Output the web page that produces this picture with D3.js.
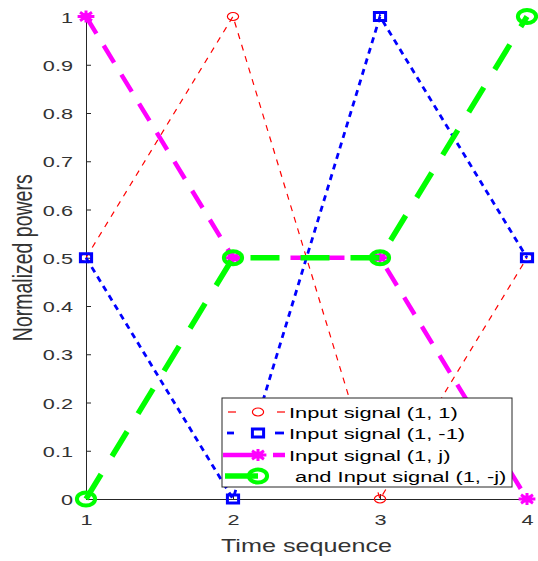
<!DOCTYPE html>
<html>
<head>
<meta charset="utf-8">
<script src="https://cdn.jsdelivr.net/npm/d3@7"></script>
<style>
  body { margin: 0; background: #fff; }
  text { font-family: "Liberation Sans", Arial, sans-serif; }
</style>
</head>
<body>
<div id="chart"></div>
<script>
// data
var times = [1, 2, 3, 4];
var sig11 = [0.5, 1, 0, 0.5];
var sig1m1 = [0.5, 0, 1, 0.5];
var sig1j = [1, 0.5, 0.5, 0];
var sig1mj = [0, 0.5, 0.5, 1];
var yTicks = [0, 0.1, 0.2, 0.3, 0.4, 0.5, 0.6, 0.7, 0.8, 0.9, 1];
var labels = ["Input signal (1, 1)", "Input signal (1, -1)", "Input signal (1, j)", " and Input signal (1, -j)"];

var width = 538, height = 561;
var margin = { top: 16.5, right: 11, bottom: 62, left: 86 };
var sx = 1.4; // the picture is stretched sideways

var x = d3.scaleLinear().domain([1, 4]).range([margin.left, width - margin.right]);
var y = d3.scaleLinear().domain([0, 1]).range([height - margin.bottom, margin.top]);

var svg = d3.select("#chart").append("svg")
  .attr("width", width)
  .attr("height", height);

// axes
var gx = svg.append("g")
  .attr("transform", `translate(0,${y(0)})`)
  .call(d3.axisBottom(x).tickValues(times).tickFormat(d3.format("d")).tickSizeInner(-5).tickSizeOuter(0));
var gy = svg.append("g")
  .attr("transform", `translate(${margin.left},0)`)
  .call(d3.axisLeft(y).tickValues(yTicks).tickFormat(d => d === 0 ? "0" : d === 1 ? "1" : d3.format(".1f")(d)).tickSizeInner(-5).tickSizeOuter(0));

[gx, gy].forEach(g => {
  g.select(".domain").attr("stroke", "#262626").attr("stroke-width", 1);
  g.selectAll(".tick line").attr("stroke", "#262626");
  g.selectAll(".tick text").attr("fill", "#333").style("font-size", "15.5px");
});
gx.selectAll(".tick text").attr("y", null).attr("dy", null)
  .attr("transform", `translate(0,26) scale(${sx},1)`);
gy.selectAll(".tick text").attr("x", null).attr("dy", null)
  .attr("transform", `translate(-13,5.5) scale(${sx},1)`);

svg.append("text")
  .attr("transform", `translate(${(x(1) + x(4)) / 2},552) scale(${sx},1)`)
  .attr("text-anchor", "middle")
  .attr("fill", "#333")
  .style("font-size", "18px")
  .text("Time sequence");

svg.append("text")
  .attr("transform", `translate(32,${(y(0) + y(1)) / 2}) rotate(-90) scale(1,${sx})`)
  .attr("text-anchor", "middle")
  .attr("fill", "#333")
  .style("font-size", "19.5px")
  .text("Normalized powers");

var series = [
  { vals: sig11, color: "#ff0000", w: 1.2, dash: "6,6", marker: "circle", mw: 1.2, r: 4 },
  { vals: sig1m1, color: "#0000ff", w: 2.8, dash: "6,5", marker: "square", mw: 3, r: 4 },
  { vals: sig1j, color: "#ff00ff", w: 4.5, dash: "20,14", marker: "star", mw: 3, r: 6 },
  { vals: sig1mj, color: "#00ff00", w: 5.5, dash: "29,21", marker: "circle", mw: 4, r: 6.5 }
];

var line = d3.line().x((d, i) => x(times[i])).y(d => y(d));

function drawMarker(g, type, cx, cy, s) {
  if (type === "circle") {
    g.append("ellipse").attr("cx", cx).attr("cy", cy).attr("rx", s.r * sx).attr("ry", s.r)
      .attr("fill", "none").attr("stroke", s.color).attr("stroke-width", s.mw);
  } else if (type === "square") {
    g.append("rect").attr("x", cx - s.r * sx).attr("y", cy - s.r).attr("width", 2 * s.r * sx).attr("height", 2 * s.r)
      .attr("fill", "none").attr("stroke", s.color).attr("stroke-width", s.mw);
  } else {
    var p = "";
    for (var k = 0; k < 4; k++) {
      var a = k * Math.PI / 4;
      var dx = Math.cos(a) * s.r * sx, dy = Math.sin(a) * s.r;
      p += `M${cx - dx},${cy - dy}L${cx + dx},${cy + dy}`;
    }
    g.append("path").attr("d", p).attr("stroke", s.color).attr("stroke-width", s.mw);
    g.append("ellipse").attr("cx", cx).attr("cy", cy).attr("rx", s.r * 0.6 * sx).attr("ry", s.r * 0.6).attr("fill", s.color);
  }
}

series.forEach(s => {
  svg.append("path")
    .datum(s.vals)
    .attr("d", line)
    .attr("fill", "none")
    .attr("stroke", s.color)
    .attr("stroke-width", s.w)
    .attr("stroke-dasharray", s.dash);
  var gm = svg.append("g");
  s.vals.forEach((v, i) => drawMarker(gm, s.marker, x(times[i]), y(v), s));
});

// legend
var lg = svg.append("g").attr("transform", "translate(222,398)");
lg.append("rect").attr("width", 290).attr("height", 89)
  .attr("fill", "#fff").attr("stroke", "#262626").attr("stroke-width", 1);
var rowY = [14, 35, 57, 78];
// line pieces shown in each legend row, left and right of the marker
var legendSegs = [
  [[6, 14], [55, 63]],
  [[5, 12], [53, 62]],
  [[1, 35], [51, 63]],
  [[3, 36]]
];
series.forEach((s, i) => {
  var row = lg.append("g").attr("transform", `translate(0,${rowY[i]})`);
  legendSegs[i].forEach(seg => {
    row.append("line").attr("x1", seg[0]).attr("x2", seg[1]).attr("y1", 0).attr("y2", 0)
      .attr("stroke", s.color).attr("stroke-width", s.w);
  });
  drawMarker(row, s.marker, 36, 0, s);
  row.append("text")
    .attr("transform", `translate(67,6) scale(1.41,1)`)
    .attr("fill", "#000").style("font-size", "15.5px")
    .attr("xml:space", "preserve")
    .text(labels[i]);
});
</script>
</body>
</html>
